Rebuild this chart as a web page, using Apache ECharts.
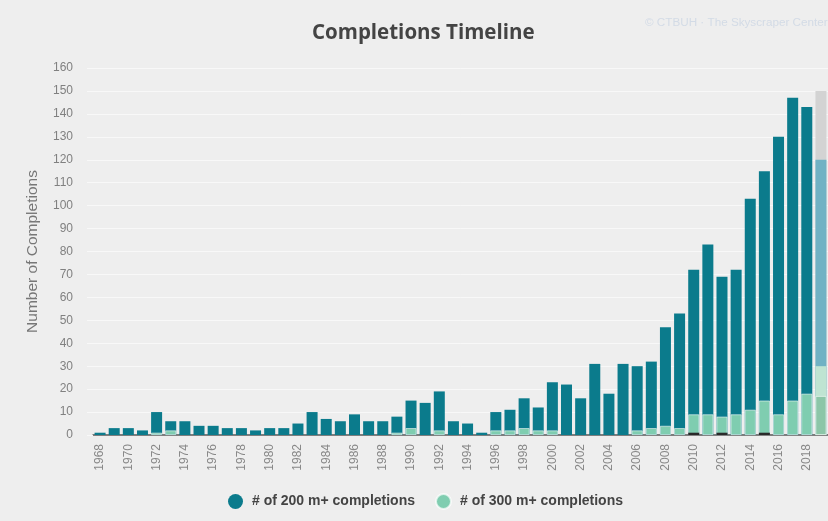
<!DOCTYPE html>
<html>
<head>
<meta charset="utf-8">
<script src="https://cdn.jsdelivr.net/npm/echarts@6/dist/echarts.min.js"></script>
<style>
html,body{margin:0;padding:0;background:#eeeeee;}
#chart{width:828px;height:521px;}
</style>
</head>
<body>
<div id="chart"></div>
<script>
// ---- data ----
const years = [];
for (let y = 1968; y <= 2019; y++) years.push(String(y));

// # of 200 m+ completions (2019 = completed so far)
const count200 = [1,3,3,2,10,6,6,4,4,3,3,2,3,3,5,10,7,6,9,6,6,8,15,14,19,6,5,1,10,11,16,12,23,22,16,31,18,31,30,32,47,53,72,83,69,72,103,115,130,147,143,120];
// # of 300 m+ completions (2019 = completed so far)
const count300 = [0,0,0,0,1,2,0,0,0,0,0,0,0,0,0,0,0,0,0,0,0,1,3,0,2,0,0,0,2,2,3,2,2,0,0,0,0,0,2,3,4,3,9,9,8,9,11,15,9,15,18,17];
// very tall (dark) completions
const count400 = [0,0,0,0,0,0,0,0,0,0,0,0,0,0,0,0,0,0,0,0,0,0,0,0,0,0,0,0,0,0,0,0,0,0,0,0,0,0,0,0,0,0,1,0,1,0,0,1,0,0,0,0];
// 2019 projections
const projected200 = [150];
const projected300 = [30];
const projYear = '2019';

const yTicks = [0,10,20,30,40,50,60,70,80,90,100,110,120,130,140,150,160];

// ---- build ----
const TEAL = '#0b7b8c', GREEN = '#7fcdb0';
const last = years.length - 1;
function toData(arr, lastColor) {
  return arr.map((v, i) => {
    if (!v) return '-';
    if (i === last && lastColor) return { value: v, itemStyle: { color: lastColor } };
    return v;
  });
}
function single(val) {
  return years.map(y => (y === projYear ? val : '-'));
}

const chart = echarts.init(document.getElementById('chart'), null, { renderer: 'canvas' });
chart.setOption({
  backgroundColor: '#eeeeee',
  animation: false,
  title: {
    text: 'Completions Timeline',
    left: 307,
    top: 18,
    textStyle: { fontFamily: 'Open Sans', fontWeight: 'bold', fontSize: 20.5, color: '#444444' }
  },
  graphic: [{
    type: 'text',
    left: 645,
    top: 17,
    style: { text: '\u00A9 CTBUH \u00B7 The Skyscraper Center', fontFamily: 'Liberation Sans', fontSize: 11.7, fill: '#d3dbe6' }
  }],
  legend: {
    data: ['# of 200 m+ completions', '# of 300 m+ completions'],
    bottom: 6,
    left: 223,
    icon: 'circle',
    itemWidth: 15,
    itemHeight: 15,
    itemGap: 20,
    textStyle: { fontFamily: 'Liberation Sans', fontWeight: 'bold', fontSize: 14, color: '#444444', padding: [0, 0, 0, 4] }
  },
  grid: { left: 93, right: 0, top: 68, bottom: 86 },
  xAxis: {
    type: 'category',
    data: years,
    axisLine: { lineStyle: { color: '#555555', width: 1.5 } },
    axisTick: { show: false },
    axisLabel: {
      rotate: 90,
      interval: 1,
      margin: 9,
      fontFamily: 'Liberation Sans',
      fontSize: 12,
      color: '#888888'
    }
  },
  yAxis: {
    type: 'value',
    min: yTicks[0],
    max: yTicks[yTicks.length - 1],
    interval: 10,
    name: 'Number of Completions',
    nameLocation: 'middle',
    nameRotate: 90,
    nameGap: 52,
    nameTextStyle: { fontFamily: 'Liberation Sans', fontSize: 15.5, color: '#777777' },
    axisLine: { show: false },
    axisTick: { show: true, length: 6, lineStyle: { color: '#f8f8f8' } },
    axisLabel: { margin: 20, fontFamily: 'Liberation Sans', fontSize: 12, color: '#808080' },
    splitLine: { lineStyle: { color: '#f8f8f8', width: 1 } }
  },
  series: [
    {
      name: 'projected 200', type: 'bar', barWidth: 11, barGap: '-100%',
      data: single(projected200[0]),
      itemStyle: { color: '#d3d3d3' }, silent: true
    },
    {
      name: '# of 200 m+ completions', type: 'bar', barWidth: 11, barGap: '-100%',
      data: toData(count200, '#70b2c4'),
      itemStyle: { color: TEAL }
    },
    {
      name: 'projected 300', type: 'bar', barWidth: 11, barGap: '-100%',
      data: single(projected300[0]),
      itemStyle: { color: '#bfe4d2' }, silent: true
    },
    {
      name: '# of 300 m+ completions', type: 'bar', barWidth: 11, barGap: '-100%',
      data: toData(count300, '#8cc6a8'),
      itemStyle: { color: GREEN, borderColor: 'rgba(255,255,255,0.7)', borderWidth: 0.8 }
    },
    {
      name: 'tall', type: 'bar', barWidth: 11, barGap: '-100%',
      data: toData(count400),
      itemStyle: { color: '#2a2a2a' }, silent: true
    }
  ]
});
</script>
</body>
</html>
